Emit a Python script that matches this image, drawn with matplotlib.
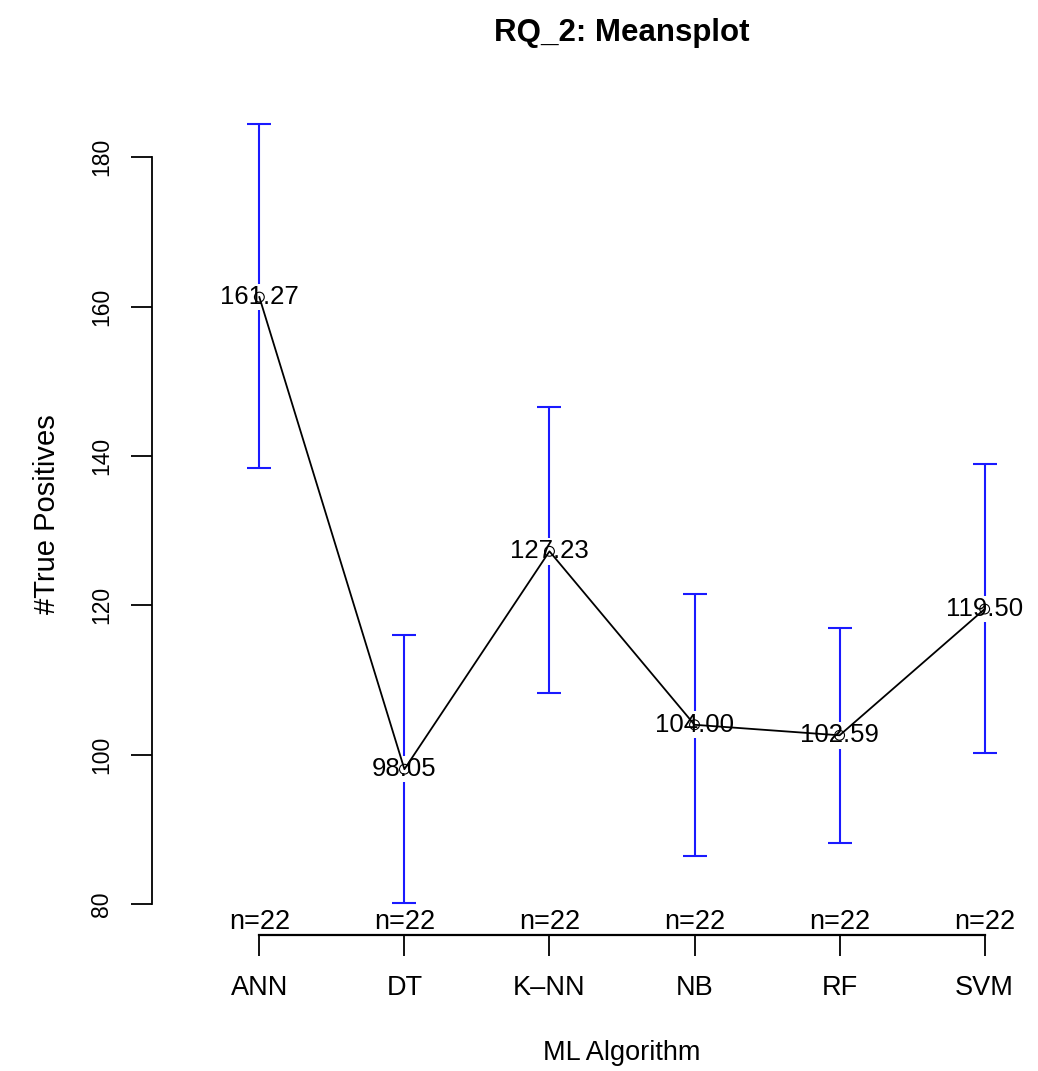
import numpy as np
import matplotlib.pyplot as plt

plt.rcParams['font.family'] = ['Liberation Sans', 'DejaVu Sans']

algorithms = ['ANN', 'DT', 'K\u2013NN', 'NB', 'RF', 'SVM']
means = np.array([161.27, 98.05, 127.23, 104.00, 102.59, 119.50])
upper = np.array([184.4, 116.0, 146.5, 121.5, 116.9, 138.9])
lower = np.array([138.4, 80.1, 108.2, 86.4, 88.2, 100.2])
counts = [22, 22, 22, 22, 22, 22]

x = np.arange(1, len(algorithms) + 1)

fig = plt.figure(figsize=(10.38, 10.71), dpi=100)
ax = fig.add_axes([152 / 1038, (1071 - 935) / 1071, 940 / 1038, 842 / 1071])

# error bars
ax.errorbar(x, means, yerr=[means - lower, upper - means], fmt='none',
            ecolor='#1a1aff', elinewidth=1.5, capsize=8.5, capthick=1.5, zorder=1)

# mean labels with white box
for xi, m in zip(x, means):
    ax.text(xi, m, f'{m:.2f}', ha='center', va='center', fontsize=18.5,
            bbox=dict(facecolor='white', edgecolor='none', pad=1.0), zorder=2)

# connecting line and points
ax.plot(x, means, color='black', lw=1.3, zorder=3)
ax.scatter(x, means, s=50, facecolors='none', edgecolors='black', lw=0.8, zorder=3)

# n labels
for xi, n in zip(x, counts):
    ax.text(xi, 75.9, f'n={n}', ha='center', va='bottom', fontsize=19.5)

ax.set_xlim(0.26, 6.74)
ax.set_ylim(75.85, 188.6)

for s in ['top', 'right']:
    ax.spines[s].set_visible(False)
ax.spines['left'].set_bounds(80, 180)
ax.spines['bottom'].set_bounds(1, 6)
ax.spines['left'].set_linewidth(1.3)
ax.spines['bottom'].set_linewidth(1.6)

ax.set_yticks([80, 100, 120, 140, 160, 180])
ax.set_yticklabels(['80', '100', '120', '140', '160', '180'], rotation=90, va='center')
ax.set_xticks(x)
ax.set_xticklabels(algorithms)
ax.tick_params(axis='both', length=15, width=1.3)
ax.tick_params(axis='x', labelsize=19.5, pad=14)
ax.tick_params(axis='y', labelsize=16.5, pad=13)

ax.set_xlabel('ML Algorithm', fontsize=19.5, labelpad=28)
ax.set_ylabel('#True Positives', fontsize=21, labelpad=21)
fig.text(622 / 1038, 1 - 33 / 1071, 'RQ_2: Meansplot', ha='center', va='center',
         fontsize=22.5, fontweight='bold')

fig.savefig('out.png', dpi=100)
